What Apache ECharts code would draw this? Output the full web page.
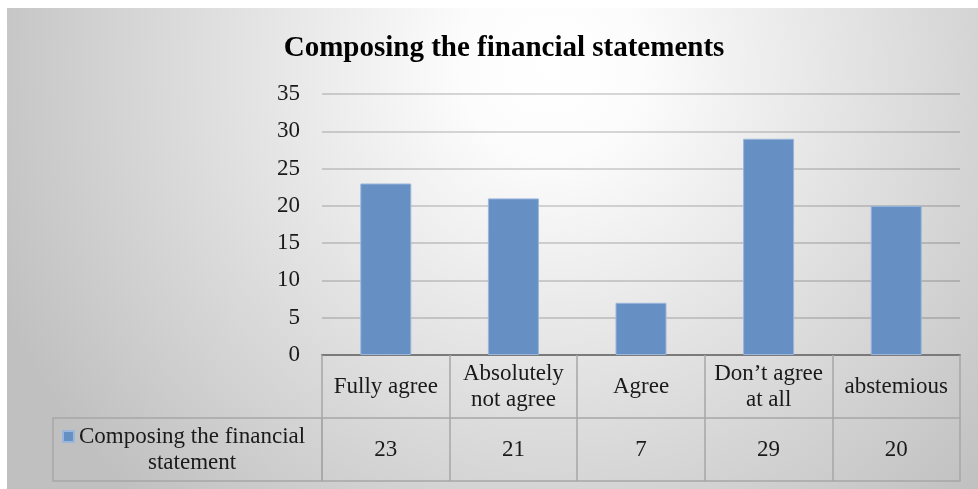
<!DOCTYPE html>
<html>
<head>
<meta charset="utf-8">
<script src="https://cdn.jsdelivr.net/npm/echarts@6/dist/echarts.min.js"></script>
<style>html,body{margin:0;padding:0;background:#fff}#c{width:978px;height:489px}</style>
</head>
<body>
<div id="c"></div>
<script>
const titleText = 'Composing the financial statements';
const seriesName = 'Composing the financial statement';
const categories = ['Fully agree', 'Absolutely\nnot agree', 'Agree', 'Don\u2019t agree\nat all', 'abstemious'];
const values = [23, 21, 7, 29, 20];
const yMin = 0, yMax = 35, yStep = 5;

const FONT = "'Liberation Serif', 'Times New Roman', serif";
const chart = echarts.init(document.getElementById('c'), null, {renderer: 'canvas'});

const gridLeft = 322, gridRight = 18, gridTop = 94, gridBottom = 134;
const rowH = 63;

chart.setOption({
  animation: false,
  textStyle: {fontFamily: FONT},
  graphic: [
    {
      type: 'rect', z: -10, silent: true,
      shape: {x: 7, y: 8, width: 971, height: 481},
      style: {
        fill: new echarts.graphic.RadialGradient(0.56, 0.12, 1.25, [
          {offset: 0, color: '#ffffff'},
          {offset: 0.15, color: '#fcfcfc'},
          {offset: 1, color: '#c0c0c0'}
        ])
      }
    },
    {
      type: 'rect', silent: true, z: 5,
      shape: {x: 53, y: 418, width: 269, height: 63},
      style: {fill: 'none', stroke: '#a6a6a6', lineWidth: 1.5}
    }
  ],
  title: {
    text: titleText,
    left: 499, top: 29, textAlign: 'center',
    textStyle: {fontFamily: FONT, fontSize: 29, fontWeight: 'bold', color: '#000'}
  },
  legend: {
    data: [{name: seriesName, icon: 'rect'}],
    left: 62, top: 425, padding: 0,
    itemWidth: 11, itemHeight: 11,
    formatter: function (n) {
      const i = n.lastIndexOf(' ');
      return '{a|' + n.slice(0, i) + '}\n{a|' + n.slice(i + 1) + '}';
    },
    textStyle: {
      fontFamily: FONT, fontSize: 23, color: '#1a1a1a', padding: [26, 0, 0, 0],
      rich: {a: {fontFamily: FONT, fontSize: 23, color: '#1a1a1a', lineHeight: 26, align: 'center'}}
    }
  },
  grid: {left: gridLeft, right: gridRight, top: gridTop, bottom: gridBottom},
  xAxis: [
    {
      type: 'category', data: categories, position: 'bottom',
      axisLine: {show: true, lineStyle: {color: '#7a7a7a', width: 2}},
      axisTick: {show: true, interval: 0, length: rowH * 2, lineStyle: {color: '#a6a6a6', width: 1.5}},
      axisLabel: {
        interval: 0, margin: rowH / 2, verticalAlign: 'middle',
        fontFamily: FONT, fontSize: 23, lineHeight: 26, color: '#1a1a1a'
      },
      splitLine: {show: false}
    },
    {
      type: 'category', data: values.map(String), position: 'bottom', offset: rowH,
      axisLine: {show: true, lineStyle: {color: '#a6a6a6', width: 1.5}},
      axisTick: {show: false},
      axisLabel: {
        interval: 0, margin: rowH / 2, verticalAlign: 'middle',
        fontFamily: FONT, fontSize: 23, color: '#1a1a1a'
      }
    },
    {
      type: 'category', data: categories, position: 'bottom', offset: rowH * 2,
      axisLine: {show: true, lineStyle: {color: '#a6a6a6', width: 1.5}},
      axisTick: {show: false},
      axisLabel: {show: false}
    }
  ],
  yAxis: {
    type: 'value', min: yMin, max: yMax, interval: yStep,
    axisLine: {show: false}, axisTick: {show: false},
    axisLabel: {margin: 22, fontFamily: FONT, fontSize: 23, color: '#1a1a1a'},
    splitLine: {show: true, lineStyle: {color: 'rgba(0,0,0,0.2)', width: 1.5}}
  },
  series: [{
    name: seriesName, type: 'bar', data: values, barWidth: 51,
    xAxisIndex: 0, yAxisIndex: 0,
    itemStyle: {color: '#6690c4', borderColor: '#9ab6dc', borderWidth: 1}
  }]
});
</script>
</body>
</html>
